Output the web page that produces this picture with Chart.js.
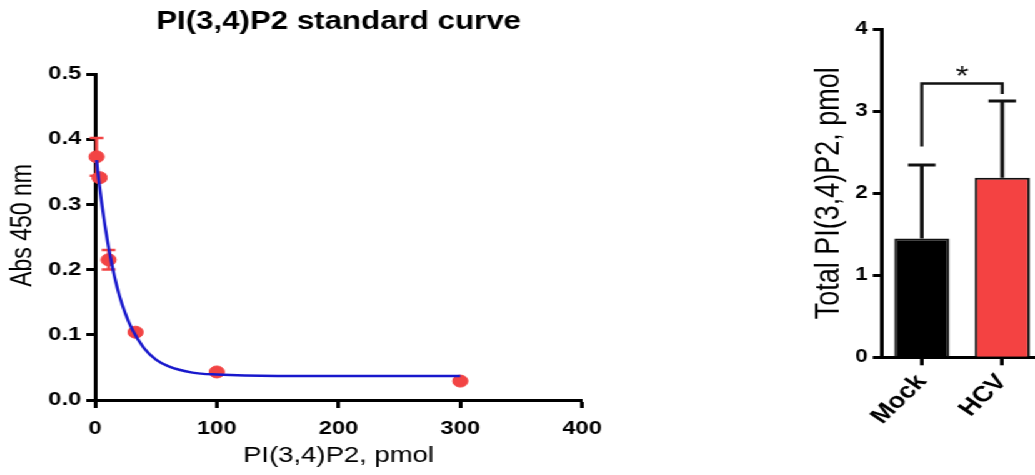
<!DOCTYPE html>
<html>
<head>
<meta charset="utf-8">
<script src="https://cdn.jsdelivr.net/npm/chart.js@4.4.1/dist/chart.umd.min.js"></script>
<style>
  html, body { margin: 0; padding: 0; background: #fff; overflow: hidden; width: 1035px; height: 475px; }
  #stage { position: absolute; left: 0; top: 0; width: 828px; height: 475px; transform: scaleX(1.25); transform-origin: 0 0; }
  #curve { position: absolute; left: 0; top: 0; }
  #bars { position: absolute; left: 640px; top: 0; }
</style>
</head>
<body>
<div id="stage">
  <canvas id="curve" width="520" height="475"></canvas>
  <canvas id="bars" width="220" height="475"></canvas>
</div>
<script>
// Standard curve: measured standards (mean ± SD) and the fitted decay curve
const stdAmount = [1.23, 3.7, 11.1, 33.3, 100, 300];
const stdAbs    = [0.373, 0.341, 0.215, 0.104, 0.043, 0.029];
const stdSD     = [0.029, 0.004, 0.015, 0.003, 0.002, 0.002];

const fitAmount = [1.23, 3, 5, 8, 12, 16, 20, 25, 30, 40, 50, 60, 80, 100, 150, 200, 300];
const fitAbs    = [0.368, 0.338, 0.308, 0.269, 0.225, 0.189, 0.160, 0.132, 0.110, 0.080, 0.062, 0.052, 0.042, 0.039, 0.037, 0.037, 0.037];

const xTicksCurve = [0, 100, 200, 300, 400];
const yTicksCurve = [0.0, 0.1, 0.2, 0.3, 0.4, 0.5];

// Cell measurements: total PI(3,4)P2 per group (mean + SD)
const groups     = ['Mock', 'HCV'];
const totalPmol  = [1.45, 2.19];
const totalSD    = [0.895, 0.935];
const yTicksBars = [0, 1, 2, 3, 4];

// Significance bracket: left foot, top, right foot (pmol) and its mark
const bracketLevels = [2.57, 3.34, 3.21];
const bracketMark = '*';

const FONT = "'Liberation Sans', Arial, Helvetica, sans-serif";
const pointRed = '#f24444';
const barRed = '#f44242';
const curveBlue = '#1818cc';

Chart.defaults.font.family = FONT;
Chart.defaults.color = '#000';

const stdErrorBars = {
  id: 'stdErrorBars',
  beforeDatasetsDraw(chart) {
    const { ctx, scales: { x, y } } = chart;
    ctx.save();
    ctx.strokeStyle = pointRed;
    ctx.lineWidth = 2.5;
    stdAmount.forEach((a, i) => {
      const px = x.getPixelForValue(a);
      const top = y.getPixelForValue(stdAbs[i] + stdSD[i]);
      const bot = y.getPixelForValue(stdAbs[i] - stdSD[i]);
      ctx.beginPath();
      ctx.moveTo(px, top); ctx.lineTo(px, bot);
      ctx.moveTo(px - 5.5, top); ctx.lineTo(px + 5.5, top);
      ctx.moveTo(px - 5.5, bot); ctx.lineTo(px + 5.5, bot);
      ctx.stroke();
    });
    ctx.restore();
  }
};

new Chart(document.getElementById('curve'), {
  type: 'scatter',
  data: {
    datasets: [
      {
        type: 'line',
        label: 'fit',
        data: fitAmount.map((a, i) => ({ x: a, y: fitAbs[i] })),
        borderColor: curveBlue,
        borderWidth: 2.5,
        pointRadius: 0,
        cubicInterpolationMode: 'monotone',
        fill: false,
        clip: false,
        order: 0
      },
      {
        label: 'standards',
        data: stdAmount.map((a, i) => ({ x: a, y: stdAbs[i] })),
        backgroundColor: pointRed,
        borderColor: pointRed,
        pointRadius: 6,
        pointHoverRadius: 6,
        clip: false,
        order: 1
      }
    ]
  },
  options: {
    responsive: false,
    animation: false,
    devicePixelRatio: 1,
    layout: { padding: { left: 0, right: 54.4, top: 0, bottom: 0 } },
    plugins: {
      legend: { display: false },
      tooltip: { enabled: false },
      title: {
        display: true,
        text: 'PI(3,4)P2 standard curve',
        fullSize: false,
        color: '#000',
        font: { family: FONT, size: 25, weight: 'bold' },
        padding: { top: 7, bottom: 37 }
      }
    },
    scales: {
      x: {
        type: 'linear',
        min: xTicksCurve[0],
        max: xTicksCurve[xTicksCurve.length - 1],
        afterBuildTicks(s) { s.ticks = xTicksCurve.map(v => ({ value: v })); },
        ticks: { color: '#000', font: { size: 19, weight: 'bold' }, padding: 9, maxRotation: 0 },
        grid: { drawOnChartArea: false, tickLength: 8, tickWidth: 3, tickColor: '#000' },
        border: { color: '#000', width: 3 },
        title: { display: true, text: 'PI(3,4)P2, pmol', color: '#000', font: { size: 22 }, padding: { top: 0, bottom: 6 } },
        afterFit(s) { s.height = 75; }
      },
      y: {
        min: yTicksCurve[0],
        max: yTicksCurve[yTicksCurve.length - 1],
        afterBuildTicks(s) { s.ticks = yTicksCurve.map(v => ({ value: v })); },
        ticks: { color: '#000', font: { size: 19, weight: 'bold' }, padding: 4, callback: v => Number(v).toFixed(1) },
        grid: { drawOnChartArea: false, tickLength: 7, tickWidth: 3, tickColor: '#000' },
        border: { color: '#000', width: 3 },
        title: { display: true, text: '\u2002\u2002Abs 450 nm', color: '#000', font: { size: 23 }, padding: { top: 5, bottom: 0 } },
        afterFit(s) { s.width = 76; }
      }
    }
  },
  plugins: [stdErrorBars]
});

const groupAnnotations = {
  id: 'groupAnnotations',
  afterDatasetsDraw(chart) {
    const { ctx, scales: { x, y } } = chart;
    ctx.save();
    ctx.strokeStyle = '#111';
    ctx.lineCap = 'butt';
    // upward SD whiskers
    ctx.lineWidth = 3;
    totalPmol.forEach((v, i) => {
      const px = x.getPixelForValue(i);
      const top = y.getPixelForValue(v + totalSD[i]);
      ctx.beginPath();
      ctx.moveTo(px, y.getPixelForValue(v)); ctx.lineTo(px, top);
      ctx.moveTo(px - 11, top); ctx.lineTo(px + 11, top);
      ctx.stroke();
    });
    // significance bracket
    const x0 = x.getPixelForValue(0), x1 = x.getPixelForValue(1);
    const yTop = y.getPixelForValue(bracketLevels[1]);
    ctx.lineWidth = 2.5;
    ctx.lineJoin = 'miter';
    ctx.beginPath();
    ctx.moveTo(x0, y.getPixelForValue(bracketLevels[0]));
    ctx.lineTo(x0, yTop);
    ctx.lineTo(x1, yTop);
    ctx.lineTo(x1, y.getPixelForValue(bracketLevels[2]));
    ctx.stroke();
    ctx.fillStyle = '#111';
    ctx.font = `27px ${FONT}`;
    ctx.textAlign = 'center';
    ctx.textBaseline = 'alphabetic';
    ctx.fillText(bracketMark, (x0 + x1) / 2, yTop + 2);
    ctx.restore();
  }
};

new Chart(document.getElementById('bars'), {
  type: 'bar',
  data: {
    labels: groups,
    datasets: [{
      data: totalPmol,
      backgroundColor: ['#000', barRed],
      borderColor: '#111',
      borderWidth: 2,
      categoryPercentage: 1,
      barPercentage: 0.685
    }]
  },
  options: {
    responsive: false,
    animation: false,
    devicePixelRatio: 1,
    layout: { padding: { left: 0, right: 26, top: 29.3, bottom: 0 } },
    plugins: { legend: { display: false }, tooltip: { enabled: false } },
    scales: {
      x: {
        ticks: { color: '#000', font: { size: 22, weight: 'bold' }, minRotation: 50, maxRotation: 50, padding: 4 },
        grid: { drawOnChartArea: false, offset: false, tickLength: 8, tickWidth: 3, tickColor: '#000' },
        border: { color: '#000', width: 3 },
        afterFit(s) { s.height = 117.7; }
      },
      y: {
        min: yTicksBars[0],
        max: yTicksBars[yTicksBars.length - 1],
        afterBuildTicks(s) { s.ticks = yTicksBars.map(v => ({ value: v })); },
        ticks: { color: '#000', font: { size: 18, weight: 'bold' }, padding: 4 },
        grid: { drawOnChartArea: false, tickLength: 7, tickWidth: 3, tickColor: '#000' },
        border: { color: '#000', width: 3 },
        title: { display: true, text: 'Total PI(3,4)P2, pmol', color: '#000', font: { size: 27 }, padding: { top: 7, bottom: 0 } },
        afterFit(s) { s.width = 65.3; }
      }
    }
  },
  plugins: [groupAnnotations]
});
</script>
</body>
</html>
